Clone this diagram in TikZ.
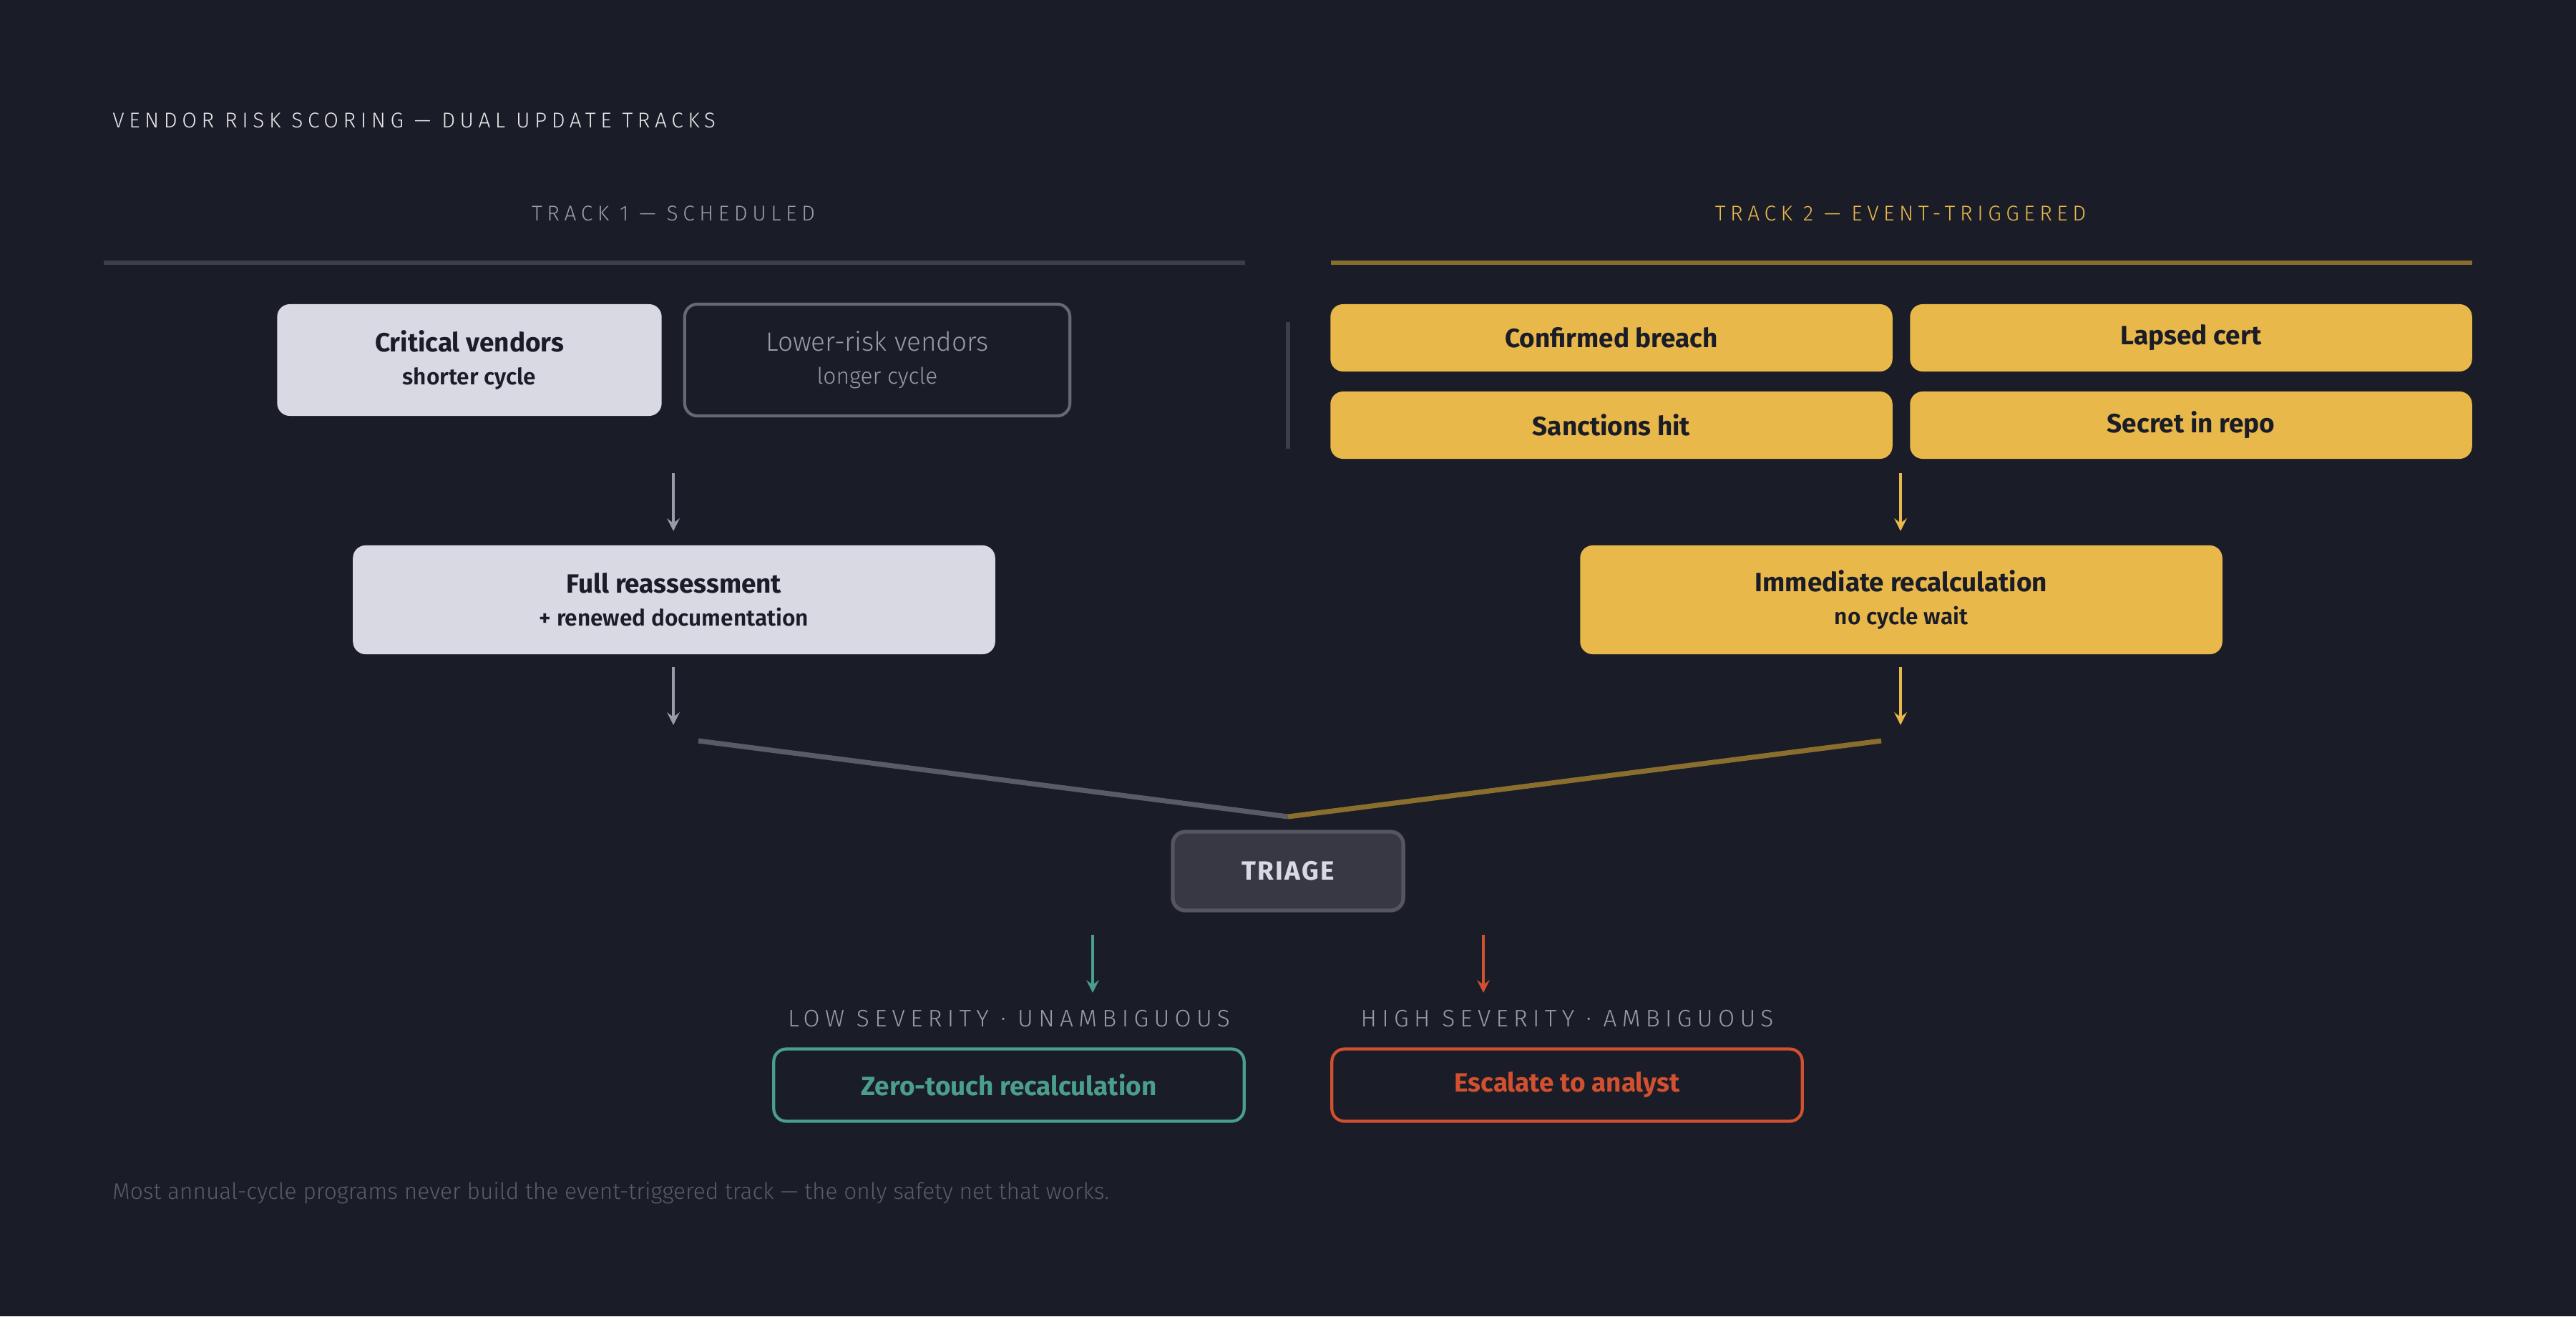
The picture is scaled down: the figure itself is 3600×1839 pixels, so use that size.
\documentclass[tikz,border=0pt]{standalone}
\usepackage{fontspec}
\setmainfont{Fira Sans}
\newfontfamily\spaced[LetterSpace=22]{Fira Sans Light}
\newfontfamily\lightf{Fira Sans Light}
\usepackage{xcolor}
\usetikzlibrary{positioning}
\definecolor{bg}{HTML}{1A1C27}
\definecolor{pale}{HTML}{D9D9E3}
\definecolor{gold}{HTML}{E8B84A}
\definecolor{golddim}{HTML}{8A6E2E}
\definecolor{rulegray}{HTML}{3C3E4A}
\definecolor{teal}{HTML}{4A9E8A}
\definecolor{rust}{HTML}{D0502F}
\definecolor{ink}{HTML}{1A1C27}
\definecolor{muted}{HTML}{9A9BA8}
\definecolor{dimtext}{HTML}{5A5C68}
\tikzset{box/.style={rectangle,rounded corners=5pt,align=center,inner sep=0pt,font=\fontsize{10.5}{14}\selectfont\bfseries},
  pale/.style={box,fill=pale,text=ink},
  ghost/.style={box,draw=muted!60!bg,line width=1.2pt,text=muted,font=\fontsize{10.5}{14}\selectfont\lightf},
  ev/.style={box,fill=gold,text=ink,minimum width=7.85cm,minimum height=0.94cm},
  result/.style={box,fill=bg,line width=1.2pt,minimum width=6.57cm,minimum height=1.01cm},
  hdr/.style={font=\fontsize{8.5}{10}\spaced},
  flow/.style={->,line width=1.2pt,shorten >=0pt}}
\newcommand{\sub}[1]{\\[-1pt]{\fontsize{9}{12}\selectfont\lightf #1}}
\begin{document}
\begin{tikzpicture}[x=0.01cm,y=-0.01cm,>=stealth]
  \fill[bg] (0,0) rectangle (3600,1839);
  \useasboundingbox (0,0) rectangle (3600,1839);
  \node[hdr,anchor=west,text=white!90!bg] (title) at (145,168) {VENDOR RISK SCORING — DUAL UPDATE TRACKS};

  % track headers
  \node[hdr,text=muted] (h1) at (941,298) {TRACK 1 — SCHEDULED};
  \node[hdr,text=gold] (h2) at (2656,298) {TRACK 2 — EVENT-TRIGGERED};
  \coordinate (r1a) at (145,367); \coordinate (r1b) at (1740,367);
  \coordinate (r2a) at (1860,367); \coordinate (r2b) at (3455,367);
  \draw[rulegray,line width=1.5pt] (r1a) -- (r1b);
  \draw[golddim,line width=1.5pt] (r2a) -- (r2b);

  % track 1
  \node[pale,minimum width=5.37cm,minimum height=1.56cm] (crit) at (656,503) {Critical vendors\sub{shorter cycle}};
  \node[ghost,minimum width=5.38cm,minimum height=1.56cm] (low) at (1226,503) {Lower-risk vendors\sub{longer cycle}};
  \coordinate (d1) at (1800,450); \coordinate (d2) at (1800,627);
  \draw[rulegray,line width=1.5pt] (d1) -- (d2);
  \node[pale,minimum width=8.97cm,minimum height=1.52cm] (full) at (942,838) {Full reassessment\sub{+ renewed documentation}};

  % track 2
  \node[ev] (breach) at (2252,472) {Confirmed breach};
  \node[ev] (cert) at (3062,472) {Lapsed cert};
  \node[ev] (sanc) at (2252,594) {Sanctions hit};
  \node[ev] (secret) at (3062,594) {Secret in repo};
  \node[box,fill=gold,text=ink,minimum width=8.97cm,minimum height=1.52cm] (imm) at (2657,838) {Immediate recalculation\sub{no cycle wait}};

  \coordinate (a1s) at (941,661); \coordinate (a1e) at (941,742);
  \coordinate (a2s) at (2656,661); \coordinate (a2e) at (2656,742);
  \draw[flow,muted] (a1s) -- (a1e);
  \draw[flow,gold] (a2s) -- (a2e);
  \coordinate (b1s) at (941,932); \coordinate (b1e) at (941,1013);
  \coordinate (b2s) at (2656,932); \coordinate (b2e) at (2656,1013);
  \draw[flow,muted] (b1s) -- (b1e);
  \draw[flow,gold] (b2s) -- (b2e);

  % merge
  \coordinate (m1) at (976,1035); \coordinate (m2) at (2629,1035); \coordinate (mc) at (1800,1141);
  \draw[rulegray!85!white,line width=2pt] (m1) -- (mc);
  \draw[golddim,line width=2pt] (m2) -- (mc);
  \node[box,fill=pale!15!bg,draw=muted!45!bg,line width=1.5pt,text=pale,minimum width=3.22cm,minimum height=1.1cm,font=\fontsize{10.5}{14}\selectfont\bfseries\addfontfeatures{LetterSpace=6}] (triage) at (1800,1217) {TRIAGE};

  % outcomes
  \coordinate (g1) at (1527,1306); \coordinate (g2) at (1527,1387);
  \coordinate (o1) at (2073,1306); \coordinate (o2) at (2073,1387);
  \draw[flow,teal] (g1) -- (g2);
  \draw[flow,rust] (o1) -- (o2);
  \node[hdr,text=muted,font=\fontsize{9.5}{11}\spaced] (lowlab) at (1410,1423) {LOW SEVERITY · UNAMBIGUOUS};
  \node[hdr,text=muted,font=\fontsize{9.5}{11}\spaced] (highlab) at (2190,1423) {HIGH SEVERITY · AMBIGUOUS};
  \node[result,draw=teal,text=teal] (zero) at (1410,1516) {Zero-touch recalculation};
  \node[result,draw=rust,text=rust] (esc) at (2190,1516) {Escalate to analyst};

  \node[anchor=west,text=dimtext,font=\fontsize{9}{11}\lightf] (foot) at (145,1667) {Most annual-cycle programs never build the event-triggered track — the only safety net that works.};
\end{tikzpicture}
\end{document}
